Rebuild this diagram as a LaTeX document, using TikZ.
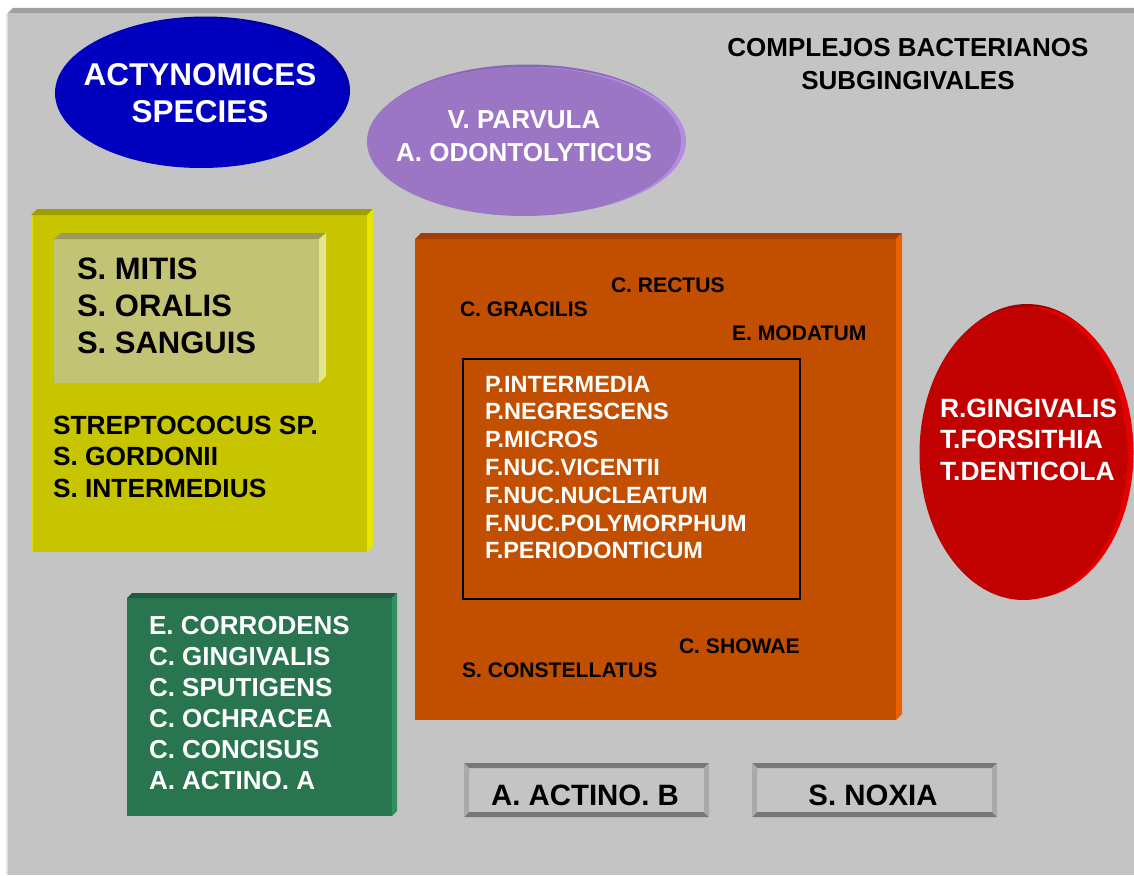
\documentclass[tikz,border=0pt]{standalone}
\usepackage{fontspec}
\setmainfont{Liberation Sans}
\newcommand\myfs[2]{\fontsize{#1}{#2}\selectfont\bfseries}
\definecolor{panel}{HTML}{C4C4C4}
\definecolor{paneltop}{HTML}{A0A0A0}
\definecolor{panelleft}{HTML}{E2E2E2}
\definecolor{blueface}{HTML}{0000BE}
\definecolor{bluerim}{HTML}{0000A0}
\definecolor{purpface}{HTML}{9B76C4}
\definecolor{purprim}{HTML}{B38DE2}
\definecolor{purptop}{HTML}{8A68B2}
\definecolor{redface}{HTML}{C10000}
\definecolor{redrim}{HTML}{E40000}
\definecolor{yelface}{HTML}{C7C400}
\definecolor{yeltop}{HTML}{A09D00}
\definecolor{yelright}{HTML}{E8E500}
\definecolor{inface}{HTML}{C3C375}
\definecolor{intop}{HTML}{9A9A5C}
\definecolor{inright}{HTML}{E4E48A}
\definecolor{orface}{HTML}{C24F00}
\definecolor{ortop}{HTML}{A03F00}
\definecolor{orright}{HTML}{EA6200}
\definecolor{grface}{HTML}{28754F}
\definecolor{grtop}{HTML}{1F5C3E}
\definecolor{grright}{HTML}{31905F}
\definecolor{bevdark}{HTML}{777777}
\definecolor{bevlight}{HTML}{A9A9A9}
\begin{document}
\begin{tikzpicture}[x=1pt,y=-1pt,
  txt/.style={inner sep=0pt, outer sep=0pt, align=left},
  ctxt/.style={inner sep=0pt, outer sep=0pt, align=center}]
\useasboundingbox (0,0) rectangle (1134,875);
\fill[white] (0,0) rectangle (1134,875);
% panel
\fill[panel] (8,13) rectangle (1134,875);
\fill[paneltop] (8,13) -- (13,8) -- (1134,8) -- (1134,13) -- cycle;
\fill[panelleft] (6,13) rectangle (8,875);
% blue ellipse
\fill[bluerim] (205,90.5) ellipse [x radius=145, y radius=74];
\fill[blueface] (201,93) ellipse [x radius=146, y radius=75];
\node[ctxt, anchor=north, text=white, font=\myfs{31.5}{37}] (actino) at (200,64) {ACTYNOMICES\\SPECIES};
% purple ellipse
\fill[purptop] (527,139.5) ellipse [x radius=157, y radius=75];
\fill[purprim] (530,141) ellipse [x radius=156, y radius=74];
\fill[purpface] (524,141.5) ellipse [x radius=157, y radius=74.5];
\node[ctxt, anchor=north, text=white, font=\myfs{26}{33}] (parvula) at (524,111) {V. PARVULA\\A. ODONTOLYTICUS};
% title
\node[ctxt, anchor=north, text=black, font=\myfs{26}{33}] (title) at (908,38.5) {COMPLEJOS BACTERIANOS\\SUBGINGIVALES};
% yellow outer box
\fill[yelface] (31,215) rectangle (367,552);
\fill[yeltop] (31,215) -- (37,209) -- (373,209) -- (367,215) -- cycle;
\fill[yelright] (367,215) -- (373,209) -- (373,546) -- (367,552) -- cycle;
\fill[yelright!70!yelface] (31,215) rectangle (32.5,552);
% inner yellow box
\fill[inface] (54,239) rectangle (319,383);
\fill[intop] (54,239) -- (61,233) -- (326,233) -- (319,239) -- cycle;
\fill[inright] (319,239) -- (326,233) -- (326,376) -- (319,383) -- cycle;
\node[txt, anchor=north west, font=\myfs{31}{37}] (mitis) at (77,257.5) {S. MITIS\\S. ORALIS\\S. SANGUIS};
\node[txt, anchor=north west, font=\myfs{26.3}{31.5}] (strep) at (53,416) {STREPTOCOCUS SP.\\S. GORDONII\\S. INTERMEDIUS};
% orange box
\fill[orface] (415,239) rectangle (896,720);
\fill[ortop] (415,239) -- (421,233) -- (902,233) -- (896,239) -- cycle;
\fill[orright] (896,239) -- (902,233) -- (902,714) -- (896,720) -- cycle;
\draw[black, line width=1.5pt] (463,359) rectangle (800,599);
\node[txt, anchor=north west, font=\myfs{21.1}{25}] (rectus) at (611,278) {C. RECTUS};
\node[txt, anchor=north west, font=\myfs{21.1}{25}] (gracilis) at (460,302) {C. GRACILIS};
\node[txt, anchor=north west, font=\myfs{21.1}{25}] (modatum) at (732,326) {E. MODATUM};
\node[txt, anchor=north west, text=white, font=\myfs{23.5}{27.8}] (orange) at (485,376)
  {P.INTERMEDIA\\P.NEGRESCENS\\P.MICROS\\F.NUC.VICENTII\\F.NUC.NUCLEATUM\\F.NUC.POLYMORPHUM\\F.PERIODONTICUM};
\node[txt, anchor=north west, font=\myfs{21.1}{25}] (showae) at (679,639) {C. SHOWAE};
\node[txt, anchor=north west, font=\myfs{21.1}{25}] (constell) at (462,663) {S. CONSTELLATUS};
% red ellipse
\fill[redrim!70!black] (1027,451) ellipse [x radius=104, y radius=147];
\fill[redrim] (1030,452.5) ellipse [x radius=103.5, y radius=146];
\fill[redface] (1023.5,453.5) ellipse [x radius=104, y radius=146.5];
\node[txt, anchor=north west, text=white, font=\myfs{26.4}{31.5}] (red) at (940,399) {R.GINGIVALIS\\T.FORSITHIA\\T.DENTICOLA};
% green box
\fill[grface] (127,598) rectangle (392,816);
\fill[grtop] (127,598) -- (132,593) -- (397,593) -- (392,598) -- cycle;
\fill[grright] (392,598) -- (397,593) -- (397,811) -- (392,816) -- cycle;
\node[txt, anchor=north west, text=white, font=\myfs{26}{31}] (green) at (149,616.5)
  {E. CORRODENS\\C. GINGIVALIS\\C. SPUTIGENS\\C. OCHRACEA\\C. CONCISUS\\A. ACTINO. A};
% bottom bevel boxes
\foreach \xa/\xb in {464/709, 752/997} {
  \fill[panel] (\xa,763) rectangle (\xb,817);
  \fill[bevdark] (\xa,763) -- (\xb,763) -- (\xb-5,768) -- (\xa+5,768) -- cycle;
  \fill[bevdark] (\xa,817) -- (\xb,817) -- (\xb-5,812) -- (\xa+5,812) -- cycle;
  \fill[bevlight] (\xa,763) -- (\xa+5,768) -- (\xa+5,812) -- (\xa,817) -- cycle;
  \fill[bevlight] (\xb,763) -- (\xb-5,768) -- (\xb-5,812) -- (\xb,817) -- cycle;
}
\node[ctxt, anchor=base, font=\myfs{29.4}{30}] (actinob) at (585,805) {A. ACTINO. B};
\node[ctxt, anchor=base, font=\myfs{29.4}{30}] (noxia) at (873,805) {S. NOXIA};
\end{tikzpicture}
\end{document}
